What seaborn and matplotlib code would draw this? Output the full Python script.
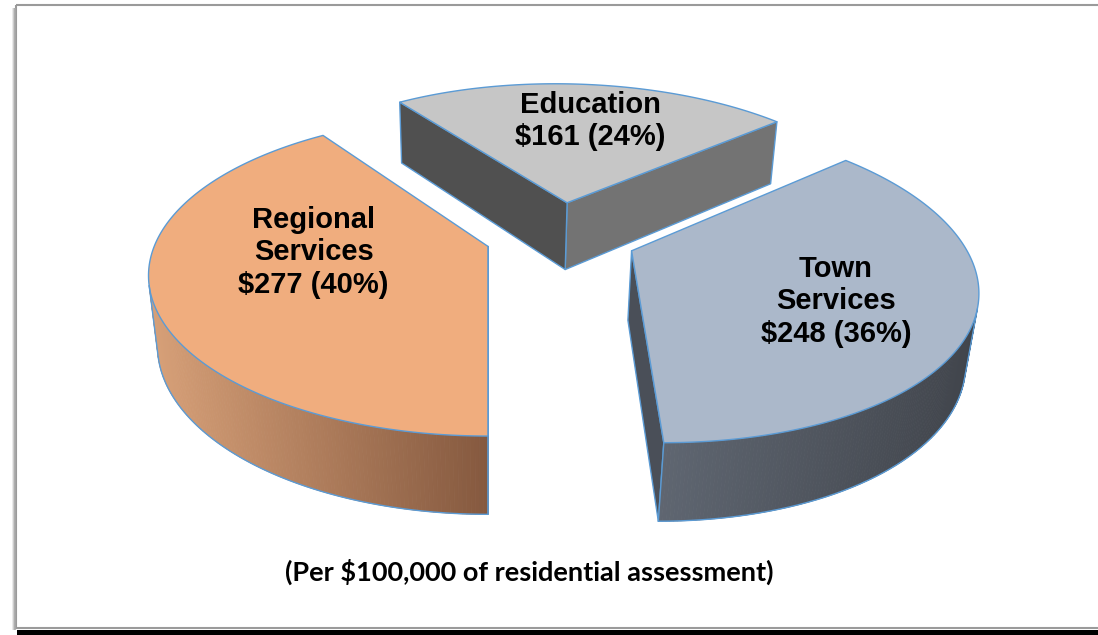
import numpy as np
import matplotlib
matplotlib.use("Agg")
import matplotlib.pyplot as plt
from matplotlib.patches import Polygon, Rectangle
import seaborn as sns

# chart data
categories = ["Town\nServices", "Education", "Regional\nServices"]
amounts = [248, 161, 277]
percents = [36, 24, 40]
footnote = "(Per $100,000 of residential assessment)"

# colours per slice: top face, outer wall gradient (light -> dark), cut faces (start edge, end edge)
top_colors = ["#ABB8CA", "#C6C6C6", "#F0AD7E"]
wall_colors = [("#5F6671", "#41454C"), ("#6E6E6E", "#4F4F4F"), ("#D7A078", "#85593F")]
cut_colors = [("#4A4F58", "#4A4F58"), ("#737373", "#505050"), ("#8A5E44", "#8A5E44")]
# label spot on the top face: fraction of radius, angle shift from bisector (deg)
label_spots = [(0.63, -4), (0.66, -2), (0.52, -13)]
EDGE = "#5B9BD5"

# 3d view of the pie (unit radius)
PHI = np.radians(30.3)
CAM_D = 4.917
CAM_X = -0.2194
FOCAL = 1580
VSCALE = 0.984
X0, Y0 = 488, 304.5
THICK = 0.245
EXPLODE = 0.23
cam = np.array([CAM_X, -CAM_D * np.cos(PHI), CAM_D * np.sin(PHI)])


def project(x, y, z):
    x, y, z = np.broadcast_arrays(np.asarray(x, float), np.asarray(y, float), np.asarray(z, float))
    depth = CAM_D + y * np.cos(PHI) - z * np.sin(PHI)
    up = y * np.sin(PHI) + z * np.cos(PHI)
    return X0 + FOCAL * (x - CAM_X) / depth, Y0 - FOCAL * VSCALE * up / depth


sns.set_style("white")

fig = plt.figure(figsize=(10.98, 6.35), dpi=100)
ax = fig.add_axes([0, 0, 1, 1])
ax.set_xlim(0, 1098)
ax.set_ylim(635, 0)
ax.axis("off")

# frame with shadow
for k, g in enumerate(["#e6e6e6", "#c8c8c8", "#a8a8a8"]):
    ax.plot([13 + k, 13 + k], [8, 630], color=g, lw=1.2, solid_capstyle="butt")
ax.add_patch(Rectangle((16, 5), 1100, 623, fill=False, edgecolor="#9a9a9a", lw=1.5))
ax.add_patch(Rectangle((17, 630), 1100, 8, facecolor="black", edgecolor="none"))

total = sum(amounts)
start = -90.0
spans = []
for v in amounts:
    sweep = 360.0 * v / total
    spans.append((start, start + sweep))
    start += sweep

# back slices first
order = sorted(range(len(amounts)), key=lambda i: -np.sin(np.radians(sum(spans[i]) / 2)))

for i in order:
    t1, t2 = spans[i]
    mid = np.radians((t1 + t2) / 2)
    ox, oy = EXPLODE * np.cos(mid), EXPLODE * np.sin(mid)
    th = np.radians(np.linspace(t1, t2, 240))
    rx, ry = ox + np.cos(th), oy + np.sin(th)

    # radial cut faces
    for k, t in enumerate((t1, t2)):
        tr = np.radians(t)
        n = (np.sin(tr), -np.cos(tr)) if k == 0 else (-np.sin(tr), np.cos(tr))
        ex, ey = ox + np.cos(tr), oy + np.sin(tr)
        mx, my = (ox + ex) / 2, (oy + ey) / 2
        if (mx - cam[0]) * n[0] + (my - cam[1]) * n[1] < 0:
            px, py = project([ox, ex, ex, ox], [oy, ey, ey, oy], [THICK, THICK, 0, 0])
            ax.add_patch(Polygon(np.column_stack([px, py]), closed=True, facecolor=cut_colors[i][k],
                                 edgecolor=EDGE, lw=1.0, joinstyle="round"))

    # outer wall, visible part only, horizontal gradient
    vis = (rx - cam[0]) * np.cos(th) + (ry - cam[1]) * np.sin(th) < 0
    idx = np.where(vis)[0]
    if len(idx) > 1:
        tx, ty = project(rx[idx], ry[idx], THICK)
        bx, by = project(rx[idx], ry[idx], 0)
        cmap = sns.blend_palette(list(wall_colors[i]), as_cmap=True)
        xmin, xmax = tx.min(), tx.max()
        for j in range(len(idx) - 1):
            c = cmap(((tx[j] + tx[j + 1]) / 2 - xmin) / (xmax - xmin))
            quad = [(tx[j], ty[j]), (tx[j + 1], ty[j + 1]), (bx[j + 1], by[j + 1]), (bx[j], by[j])]
            ax.add_patch(Polygon(quad, closed=True, facecolor=c, edgecolor=c, lw=0.6))
        ax.plot(bx, by, color=EDGE, lw=1.0)
        ax.plot([tx[0], bx[0]], [ty[0], by[0]], color=EDGE, lw=1.0)
        ax.plot([tx[-1], bx[-1]], [ty[-1], by[-1]], color=EDGE, lw=1.0)

    # top face
    px, py = project(np.r_[ox, rx], np.r_[oy, ry], THICK)
    ax.add_patch(Polygon(np.column_stack([px, py]), closed=True, facecolor=top_colors[i],
                         edgecolor=EDGE, lw=1.0, joinstyle="round"))

    # label
    r, shift = label_spots[i]
    la = mid + np.radians(shift)
    lx, ly = project(ox + r * np.cos(la), oy + r * np.sin(la), THICK)
    ax.text(float(lx), float(ly), f"{categories[i]}\n${amounts[i]} ({percents[i]}%)",
            ha="center", va="center", multialignment="center", linespacing=1.2,
            fontsize=21, fontweight="bold", family=["Liberation Sans", "DejaVu Sans"], color="black")

ax.text(529, 572, footnote, ha="center", va="center", fontsize=19.5, fontweight="bold",
        family=["Lato", "DejaVu Sans"], color="black")

fig.savefig("out.png", dpi=100)
